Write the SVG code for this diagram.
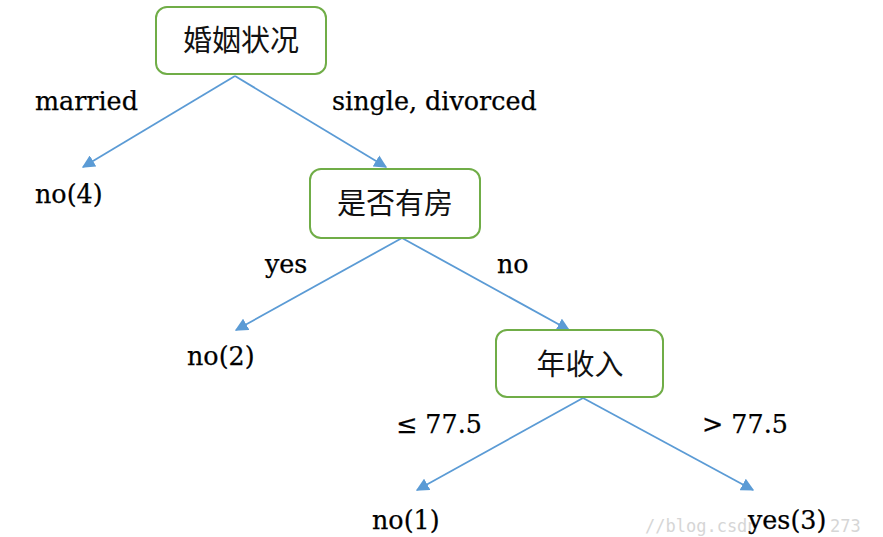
<svg xmlns="http://www.w3.org/2000/svg" width="883" height="537" viewBox="0 0 883 537">
  <style>
    .box { fill: #ffffff; stroke: #70ad47; stroke-width: 2; }
    .zh { font-family: "Noto Sans CJK SC", sans-serif; font-size: 29px; fill: #111111; text-anchor: middle; }
    .lbl { font-family: "DejaVu Serif", "Liberation Serif", serif; font-size: 25.4px; fill: #000000; stroke: #000000; stroke-width: 0.25; }
    .edge { stroke: #5b9bd5; stroke-width: 1.8; fill: none; marker-end: url(#tri); }
    .wm { font-family: "DejaVu Sans Mono", monospace; font-size: 17px; fill: #d6d6d6; }
  </style>
  <defs>
    <marker id="tri" viewBox="0 0 10 10" refX="9" refY="5" markerWidth="13" markerHeight="13" markerUnits="userSpaceOnUse" orient="auto">
      <path d="M0,0 L10,5 L0,10 Z" fill="#5b9bd5"/>
    </marker>
  </defs>
  <rect width="883" height="537" fill="#ffffff"/>

  <text class="wm" x="645" y="532">//blog.csdn</text>
  <text class="wm" x="830" y="532">273</text>

  <g id="connectors">
    <line class="edge" x1="235" y1="76" x2="83" y2="167"/>
    <line class="edge" x1="235" y1="76" x2="386" y2="167"/>
    <line class="edge" x1="402" y1="238" x2="236" y2="330"/>
    <line class="edge" x1="402" y1="238" x2="569" y2="330"/>
    <line class="edge" x1="583" y1="398" x2="417" y2="490"/>
    <line class="edge" x1="583" y1="398" x2="753" y2="490"/>
  </g>

  <g id="edge-labels">
    <text class="lbl" x="35" y="110">married</text>
    <text class="lbl" x="332" y="110">single, divorced</text>
    <text class="lbl" x="265" y="273">yes</text>
    <text class="lbl" x="497" y="273">no</text>
    <text class="lbl" x="396" y="433">≤ 77.5</text>
    <text class="lbl" x="702" y="433">&gt; 77.5</text>
  </g>

  <g id="n-marital">
    <rect class="box" x="156" y="7" width="170" height="67" rx="11"/>
    <text class="zh" x="241" y="51">婚姻状况</text>
  </g>
  <g id="n-house">
    <rect class="box" x="310" y="169" width="170" height="69" rx="11"/>
    <text class="zh" x="395" y="214">是否有房</text>
  </g>
  <g id="n-income">
    <rect class="box" x="496" y="330" width="167" height="67" rx="11"/>
    <text class="zh" x="580" y="375">年收入</text>
  </g>

  <g id="leaf-no4"><text class="lbl" x="35" y="203">no(4)</text></g>
  <g id="leaf-no2"><text class="lbl" x="187" y="365">no(2)</text></g>
  <g id="leaf-no1"><text class="lbl" x="372" y="529">no(1)</text></g>
  <g id="leaf-yes3"><text class="lbl" x="748" y="529">yes(3)</text></g>
</svg>
